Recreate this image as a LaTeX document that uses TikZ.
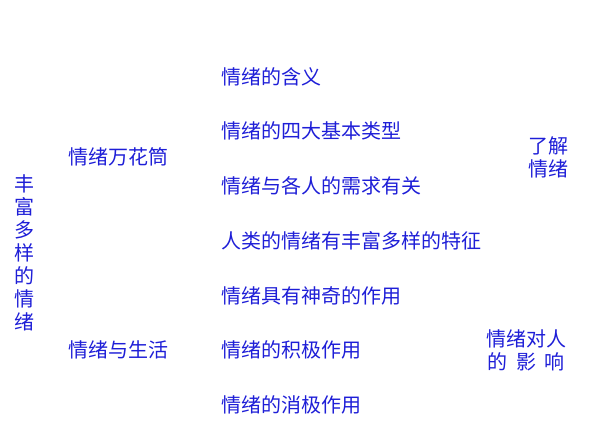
\documentclass[tikz,border=0pt]{standalone}
\usepackage{fontspec}
\setmainfont{Noto Sans CJK SC}
\usetikzlibrary{positioning}
\definecolor{txtblue}{RGB}{30,30,215}

\begin{document}
\begin{tikzpicture}[x=1pt,y=-1pt,
        item/.style = {text = txtblue, font = \fontsize{20}{23}\selectfont, inner sep = 0pt, anchor = west},
        tag/.style = {text = txtblue, font = \fontsize{20}{23}\selectfont, inner sep = 0pt, align = center},
    ]
    \useasboundingbox (0,0) rectangle (589,437);
    \node[tag] (root) at (24,253) {丰\\富\\多\\样\\的\\情\\绪};
    \node[item] (kaleido) at (68,157) {情绪万花筒};
    \node[item] (life) at (68,350) {情绪与生活};

    \node[item] (meaning) at (221,77) {情绪的含义};
    \node[item] (types) at (221,131) {情绪的四大基本类型};
    \node[item] (needs) at (221,186) {情绪与各人的需求有关};
    \node[item] (rich) at (221,241) {人类的情绪有丰富多样的特征};
    \node[item] (magic) at (221,296) {情绪具有神奇的作用};
    \node[item] (positive) at (221,350) {情绪的积极作用};
    \node[item] (negative) at (221,405) {情绪的消极作用};

    \node[tag] (know) at (548,157) {了解\\情绪};
    \node[tag] (effect) at (526,350) {情绪对人\\的\ \ 影\ \ 响};
\end{tikzpicture}
\end{document}
